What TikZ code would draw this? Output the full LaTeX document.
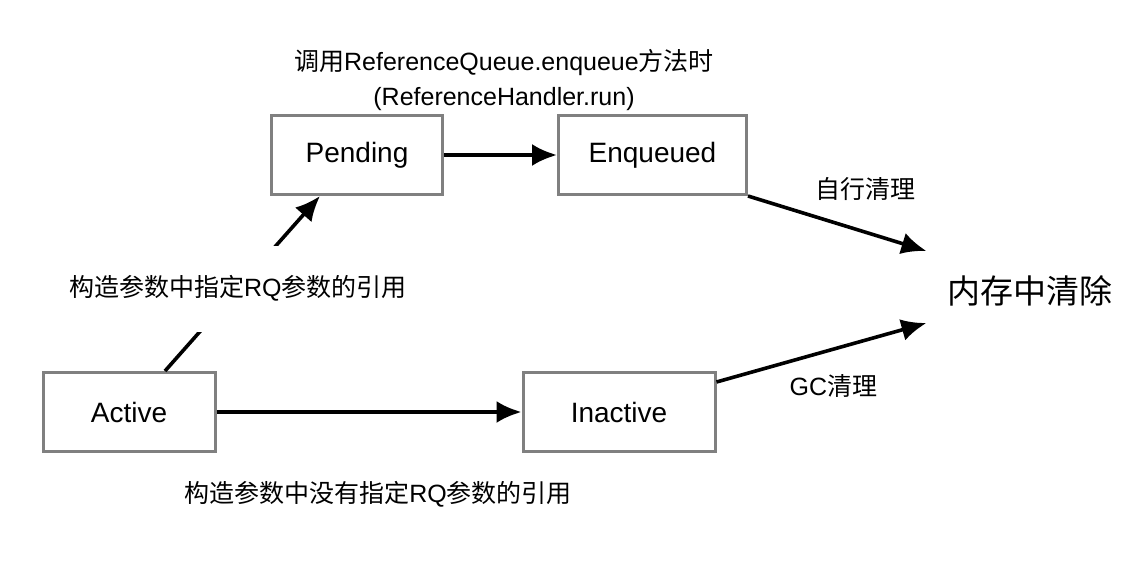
\documentclass[tikz,border=0pt]{standalone}
\usepackage{fontspec}
\setmainfont{Liberation Sans}
\newfontfamily\cjk{Noto Sans CJK SC}
\usetikzlibrary{arrows.meta, positioning}

\definecolor{boxgray}{RGB}{128,128,128}

\begin{document}
\begin{tikzpicture}[x=0.5pt, y=-0.5pt, >={Latex[length=12.5pt,width=11pt]}, font=\fontsize{12.5}{17.5}\selectfont, align=center,
  state/.style={draw=boxgray, line width=1.5pt, minimum height=39.5pt, font=\fontsize{14}{17}\selectfont},
  link/.style={->, line width=1.8pt}]
\useasboundingbox (0,0) rectangle (1136,578);

\node[state, minimum width=86pt] (act) at (129,412) {Active};
\node[state, minimum width=96pt, right=152.5pt of act] (ina) {Inactive};
\node[state, minimum width=85.5pt] (pend) at (357,155) {Pending};
\node[state, minimum width=94pt, right=56.5pt of pend] (enq) {Enqueued};
\node[font=\cjk\fontsize{16.5}{20}\selectfont] (mem) at (1030,291) {内存中清除};

\node (call) at (504,80) {{\cjk 调用}ReferenceQueue.enqueue{\cjk 方法时}\\(ReferenceHandler.run)};
\node (noq) at (378,494) {{\cjk 构造参数中没有指定}RQ{\cjk 参数的引用}};

\draw[link] (pend) -- (enq);
\draw[link] (act) -- (ina);
\draw[link] ([xshift=18pt]act.north) -- node[pos=0.47, fill=white, inner ysep=15pt] {{\cjk 构造参数中指定}RQ{\cjk 参数的引用}} ([xshift=-18.5pt]pend.south);

\draw[link] (enq.south east) -- node[pos=0.6, above=10pt, xshift=5pt] {\cjk 自行清理} ([xshift=-7pt, yshift=20pt]mem.west);
\draw[link] ([yshift=-5.5pt]ina.north east) -- node[pos=0.5, below=7pt, xshift=6pt] {GC{\cjk 清理}} ([xshift=-7pt, yshift=-16pt]mem.west);
\end{tikzpicture}
\end{document}
